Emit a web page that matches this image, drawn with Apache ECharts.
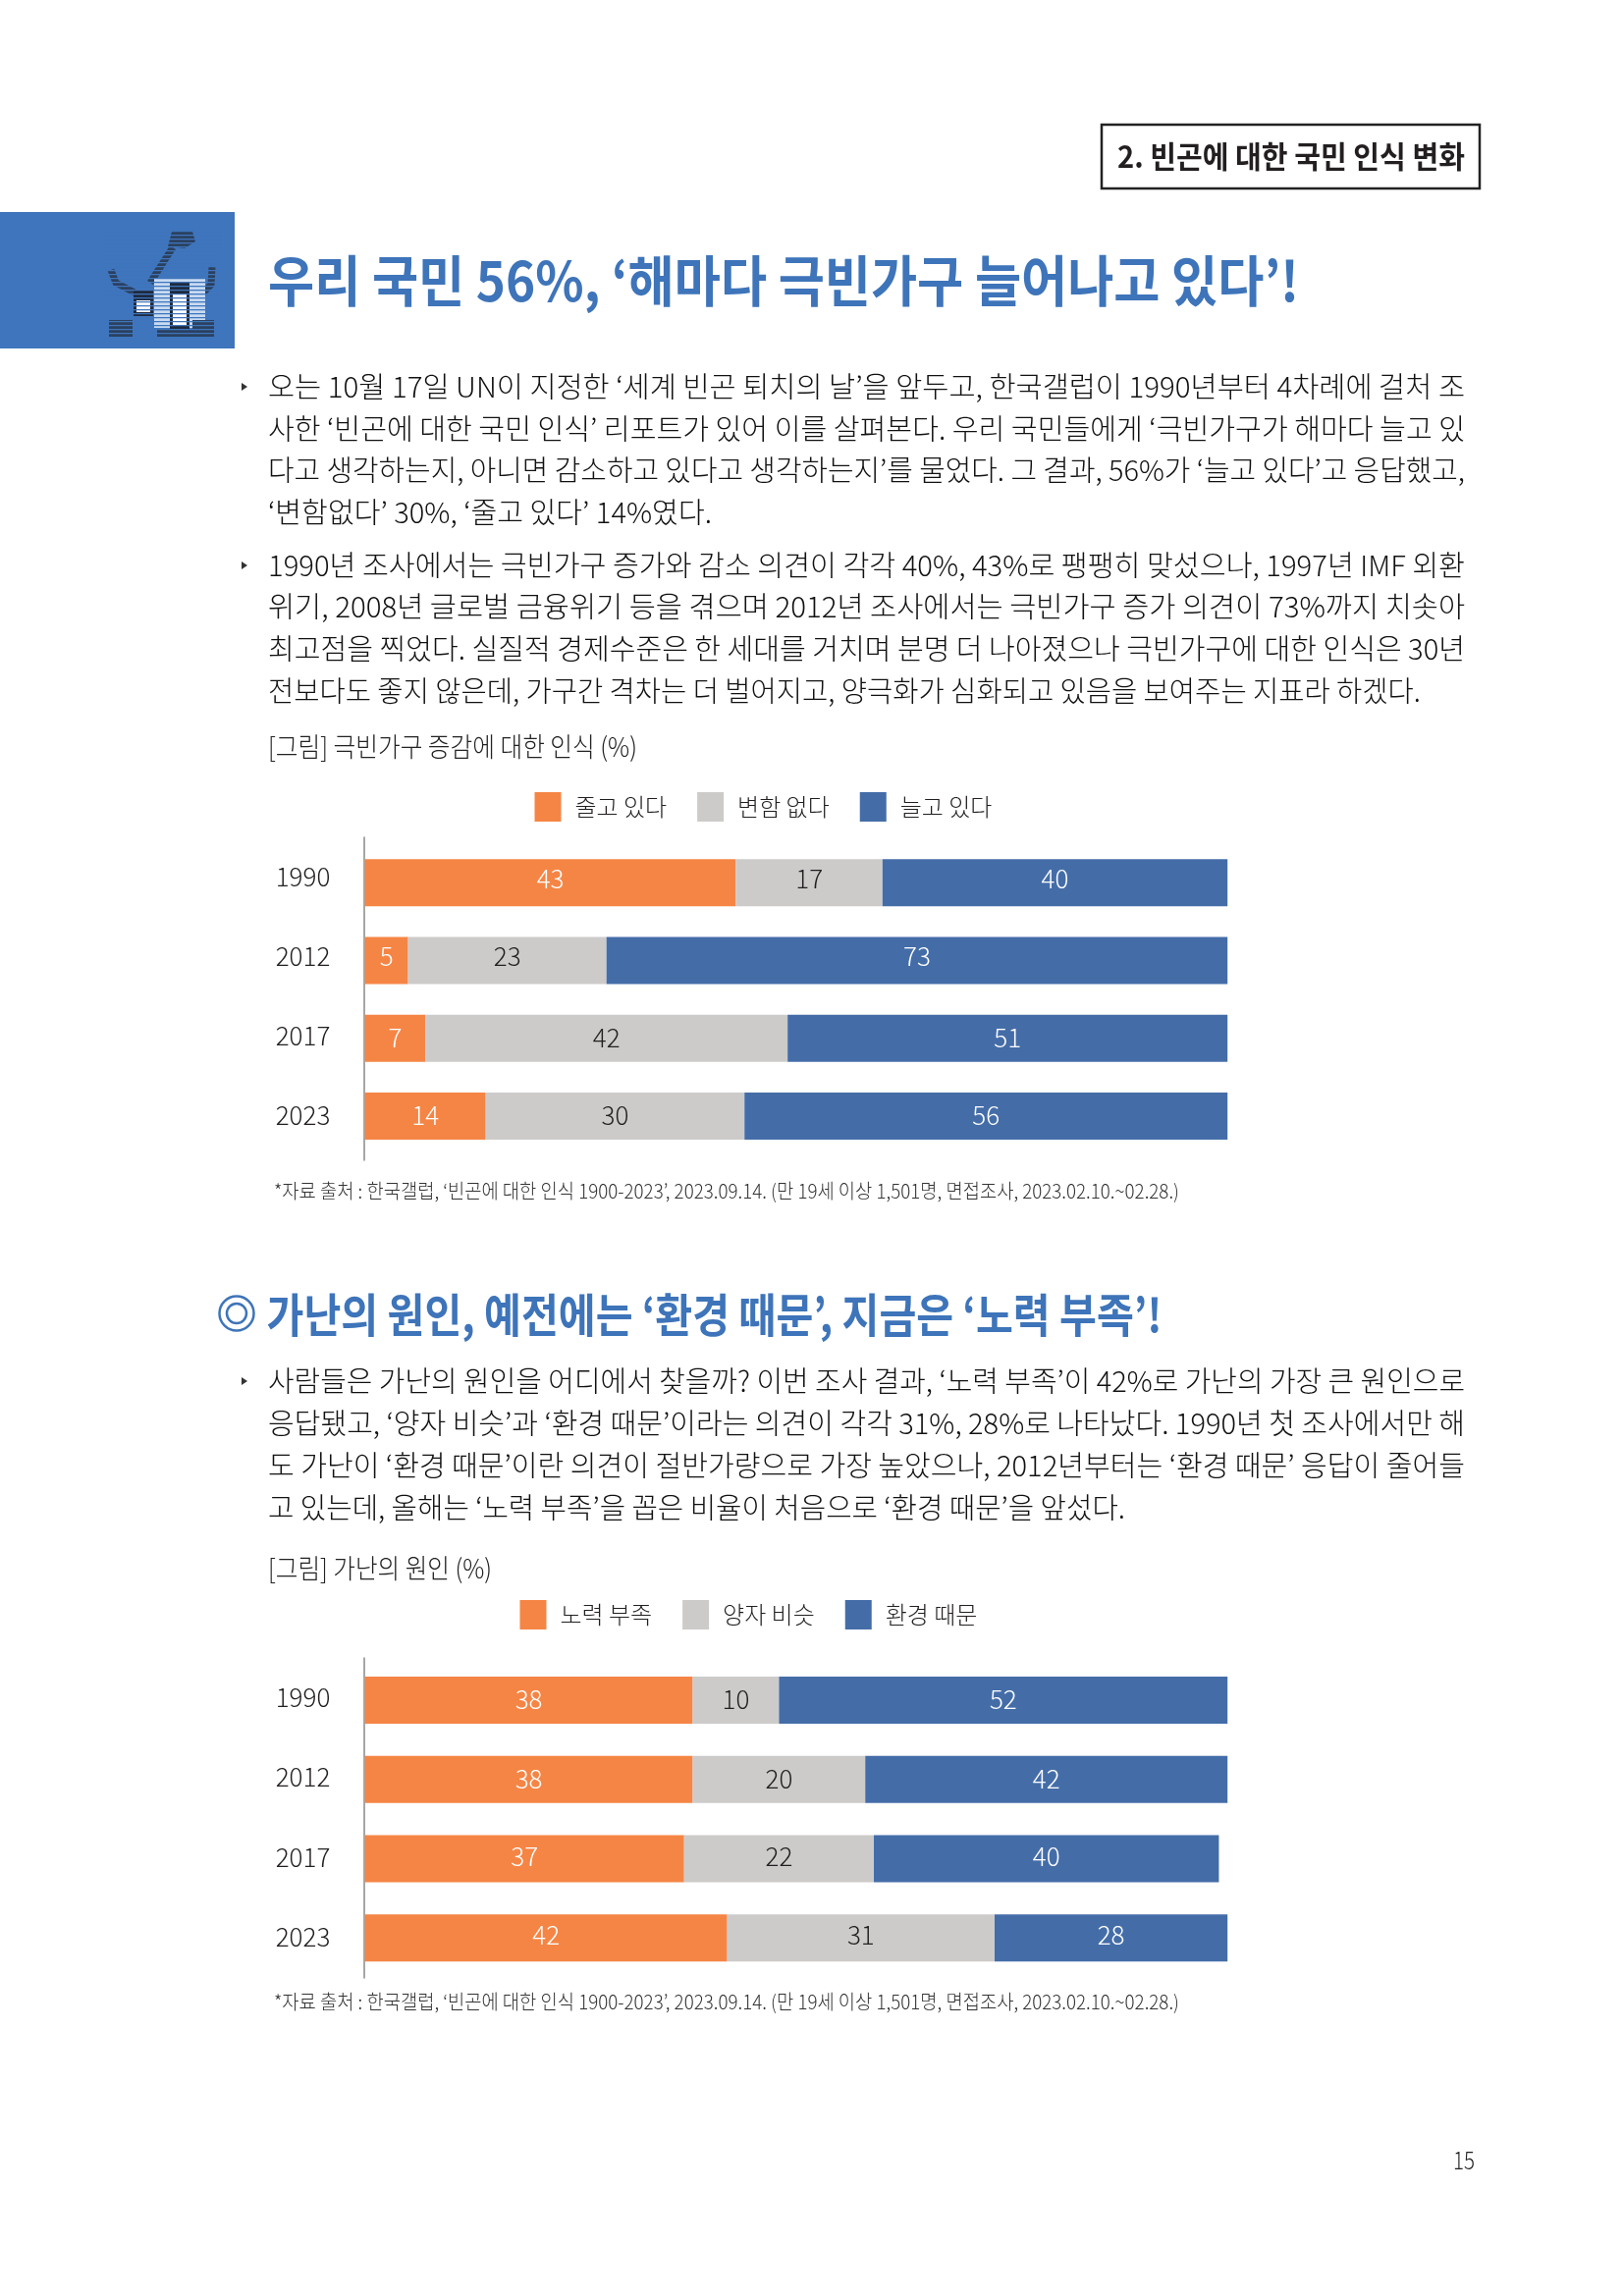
<!DOCTYPE html>
<html><head><meta charset="utf-8">
<script src="https://cdn.jsdelivr.net/npm/echarts@6/dist/echarts.min.js"></script>
<style>html,body{margin:0;padding:0;background:#fff}#c{width:1653px;height:2339px}</style>
</head><body><div id="c"></div>
<script>
const years = ['1990','2012','2017','2023'];
const povertyNames = ['줄고 있다','변함 없다','늘고 있다'];
const povertyDecreasing = [43,5,7,14];
const povertySame = [17,23,42,30];
const povertyIncreasing = [40,73,51,56];
const causeNames = ['노력 부족','양자 비슷','환경 때문'];
const causeEffort = [38,38,37,42];
const causeBoth = [10,20,22,31];
const causeEnvironment = [52,42,40,28];

const headerLabel = '2. 빈곤에 대한 국민 인식 변화';
const mainTitle = '우리 국민 56%, ‘해마다 극빈가구 늘어나고 있다’!';
const subTitle = '가난의 원인, 예전에는 ‘환경 때문’, 지금은 ‘노력 부족’!';
const para1 = [
 '오는 10월 17일 UN이 지정한 ‘세계 빈곤 퇴치의 날’을 앞두고, 한국갤럽이 1990년부터 4차례에 걸처 조',
 '사한 ‘빈곤에 대한 국민 인식’ 리포트가 있어 이를 살펴본다. 우리 국민들에게 ‘극빈가구가 해마다 늘고 있',
 '다고 생각하는지, 아니면 감소하고 있다고 생각하는지’를 물었다. 그 결과, 56%가 ‘늘고 있다’고 응답했고,',
 '‘변함없다’ 30%, ‘줄고 있다’ 14%였다.'];
const para2 = [
 '1990년 조사에서는 극빈가구 증가와 감소 의견이 각각 40%, 43%로 팽팽히 맞섰으나, 1997년 IMF 외환',
 '위기, 2008년 글로벌 금융위기 등을 겪으며 2012년 조사에서는 극빈가구 증가 의견이 73%까지 치솟아',
 '최고점을 찍었다. 실질적 경제수준은 한 세대를 거치며 분명 더 나아졌으나 극빈가구에 대한 인식은 30년',
 '전보다도 좋지 않은데, 가구간 격차는 더 벌어지고, 양극화가 심화되고 있음을 보여주는 지표라 하겠다.'];
const para3 = [
 '사람들은 가난의 원인을 어디에서 찾을까? 이번 조사 결과, ‘노력 부족’이 42%로 가난의 가장 큰 원인으로',
 '응답됐고, ‘양자 비슷’과 ‘환경 때문’이라는 의견이 각각 31%, 28%로 나타났다. 1990년 첫 조사에서만 해',
 '도 가난이 ‘환경 때문’이란 의견이 절반가량으로 가장 높았으나, 2012년부터는 ‘환경 때문’ 응답이 줄어들',
 '고 있는데, 올해는 ‘노력 부족’을 꼽은 비율이 처음으로 ‘환경 때문’을 앞섰다.'];
const caption1 = '[그림] 극빈가구 증감에 대한 인식 (%)';
const caption2 = '[그림] 가난의 원인 (%)';
const footnote = '*자료 출처 : 한국갤럽, ‘빈곤에 대한 인식 1900-2023’, 2023.09.14. (만 19세 이상 1,501명, 면접조사, 2023.02.10.~02.28.)';
const pageNumber = '15';

const FF = '"Noto Sans CJK KR","Noto Sans",sans-serif';
const ORANGE='#F58545', GREY='#CDCBCA', BLUE='#446DA8', TITLE='#3E74B9', INK='#231F20';
const ctx = document.createElement('canvas').getContext('2d');
const g = [];
function text(str,x,y,size,weight,fill,width){
  ctx.font = weight+' '+size+'px '+FF;
  const sx = width ? width/ctx.measureText(str).width : 1;
  g.push({type:'text',x,y,scaleX:sx,silent:true,
    style:{text:str,fontSize:size,fontWeight:weight,fontFamily:FF,fill,textAlign:'left',textBaseline:'middle',verticalAlign:'middle'}});
}
function rect(x,y,w,h,fill){g.push({type:'rect',silent:true,shape:{x,y,width:w,height:h},style:{fill}});}
function bullet(y){g.push({type:'polygon',silent:true,shape:{points:[[246,y-4],[252,y],[246,y+4]]},style:{fill:'#333'}});}

// header box
g.push({type:'rect',silent:true,shape:{x:1122,y:127,width:385,height:65},style:{fill:'#fff',stroke:'#222',lineWidth:2.5}});
text(headerLabel,1138,159,31,600,INK,354);
// blue block and icon
rect(0,216,239,139,'#3F75BC');
g.push({type:'polygon',silent:true,shape:{points:[[175,236],[196,236],[199,246],[188,253],[171,251]]},style:{fill:'#2B4160'}});
g.push({type:'polyline',silent:true,shape:{points:[[176,252],[153,288]]},style:{stroke:'#2B4160',lineWidth:7,fill:null}});
g.push({type:'polyline',silent:true,shape:{points:[[113,275],[118,288],[137,298]]},style:{stroke:'#2B4160',lineWidth:7,fill:null}});
g.push({type:'polyline',silent:true,shape:{points:[[216,272],[215,290],[207,298]]},style:{stroke:'#2B4160',lineWidth:7,fill:null}});
rect(157,284,52,50,'#C9DBF2');
rect(173,287,20,48,'#1E2A3E');
rect(176,300,14,32,'#FFFFFF');
rect(136,296,20,26,'#1E2A3E');
rect(139,306,14,12,'#FFFFFF');
rect(111,326,24,17,'#2B4160');
rect(160,335,58,8,'#2B4160');
rect(196,326,22,9,'#2B4160');
for(let yy=235;yy<345;yy+=4) rect(105,yy,120,1.2,'#3F75BC');

text(mainTitle,273,286,56,600,TITLE,1050);
[394,437,479,522].forEach((y,i)=>text(para1[i],273,y,29,300,'#111',[1219,1219,1219,452][i]));
[576,618,661,704].forEach((y,i)=>text(para2[i],273,y,29,300,'#111',[1219,1219,1219,1174][i]));
[394,576,1407].forEach(bullet);
text(caption1,273,761,27,300,'#222',376);
text(footnote,279,1213,20,300,'#333',922);

g.push({type:'circle',silent:true,shape:{cx:241,cy:1338,r:17.5},style:{fill:null,stroke:TITLE,lineWidth:2.5}});
g.push({type:'circle',silent:true,shape:{cx:241,cy:1338,r:10},style:{fill:null,stroke:TITLE,lineWidth:2.5}});
text(subTitle,271.5,1339,47,600,TITLE,912);
[1407,1450,1493,1536].forEach((y,i)=>text(para3[i],273,y,29,300,'#111',[1219,1219,1219,873][i]));
text(caption2,273,1598,27,300,'#222',228);
text(footnote,279,2039,20,300,'#333',922);
text(pageNumber,1480,2200,25,300,INK,22);

function barSeries(name,data,color,labelColor,xi,stack,shifts){
  return {type:'bar',name,stack,xAxisIndex:xi,yAxisIndex:xi,barWidth:48,itemStyle:{color},
    data:data.map((value,i)=>({value,label:{offset:[0,shifts[i]]}})),
    label:{show:true,position:'inside',color:labelColor,fontSize:26,fontFamily:FF,fontWeight:300,formatter:p=>p.value},
    emphasis:{disabled:true},animation:false};
}
const legendBase = {orient:'horizontal',icon:'rect',itemWidth:27,itemHeight:30,itemGap:31,
  textStyle:{fontSize:24,fontWeight:300,fontFamily:FF,color:INK,padding:[0,0,0,9]},selectedMode:false};
const BAR_L=371.7, BAR_W=878.5;
const rowShift1=[-4,-4,-1,-1], rowShift2=[-1,-1,-2,-3];
const hiddenX = i=>({gridIndex:i,type:'value',min:0,max:100,show:false});
const barY = i=>({gridIndex:i,type:'category',inverse:true,data:years,show:false});
const lineY = i=>({gridIndex:i,type:'category',data:[''],axisTick:{show:false},axisLabel:{show:false},
  axisLine:{show:true,lineStyle:{color:'#8A8A8A',width:1.5}}});
const tickY = i=>({gridIndex:i,type:'category',inverse:true,data:years,axisTick:{show:false},axisLine:{show:false},
  axisLabel:{fontSize:26,fontWeight:300,fontFamily:FF,color:INK,margin:34}});

const chart = echarts.init(document.getElementById('c'),null,{renderer:'canvas',width:1653,height:2339});
chart.setOption({
  animation:false,backgroundColor:'#fff',tooltip:{show:false},
  legend:[
    Object.assign({},legendBase,{left:539.5,top:802,data:povertyNames}),
    Object.assign({},legendBase,{left:524.5,top:1625,data:causeNames})
  ],
  grid:[
    {left:BAR_L,top:859.5,width:BAR_W,height:317},
    {left:BAR_L,top:1691.5,width:BAR_W,height:323},
    {left:370.3,top:853,width:1,height:329},
    {left:370.3,top:1689,width:1,height:326},
    {left:370.3,top:853,width:1,height:324},
    {left:370.3,top:1688,width:1,height:326}
  ],
  xAxis:[0,1,2,3,4,5].map(hiddenX),
  yAxis:[barY(0),barY(1),lineY(2),lineY(3),tickY(4),tickY(5)],
  series:[
    barSeries(povertyNames[0],povertyDecreasing,ORANGE,'#fff',0,'a',rowShift1),
    barSeries(povertyNames[1],povertySame,GREY,'#231F20',0,'a',rowShift1),
    barSeries(povertyNames[2],povertyIncreasing,BLUE,'#fff',0,'a',rowShift1),
    barSeries(causeNames[0],causeEffort,ORANGE,'#fff',1,'b',rowShift2),
    barSeries(causeNames[1],causeBoth,GREY,'#231F20',1,'b',rowShift2),
    barSeries(causeNames[2],causeEnvironment,BLUE,'#fff',1,'b',rowShift2)
  ],
  graphic:{elements:g}
});
</script></body></html>
